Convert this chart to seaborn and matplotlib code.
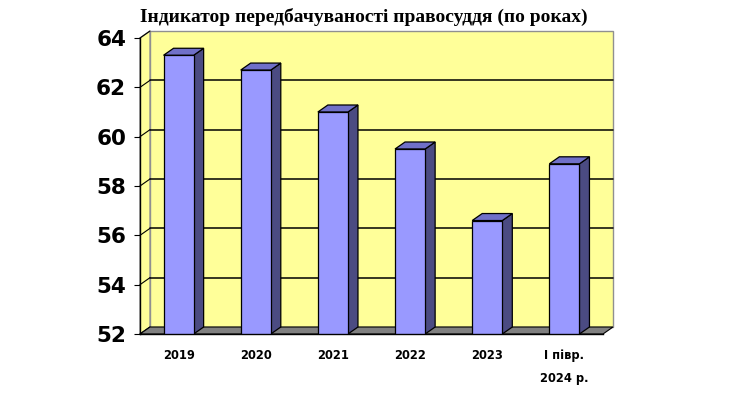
import matplotlib
matplotlib.use("Agg")
import matplotlib.pyplot as plt
import seaborn as sns
import pandas as pd
from matplotlib.patches import Polygon, Rectangle

categories = ["2019", "2020", "2021", "2022", "2023", "I півр.\n2024 р."]
values = [63.3, 62.7, 61.0, 59.5, 56.6, 58.9]
yticks = [52, 54, 56, 58, 60, 62, 64]
title = "Індикатор передбачуваності правосуддя (по роках)"

sns.set_theme(style="white")
plt.rcParams["font.family"] = ["DejaVu Sans"]

W, H = 752, 395
fig = plt.figure(figsize=(W / 100, H / 100), dpi=100)
x0p, x1p, ytop, ybot = 140, 603, 38, 334
ax = fig.add_axes([x0p / W, (H - ybot) / H, (x1p - x0p) / W, (ybot - ytop) / H])

df = pd.DataFrame({"cat": categories, "val": values})
ymin, ymax = yticks[0], yticks[-1]
n = len(categories)
xmin, xmax = -0.5, n - 0.5

# pixel -> data conversion for depth offsets
dxp, dyp = 10, 7
ux = (xmax - xmin) / (x1p - x0p)
uy = (ymax - ymin) / (ybot - ytop)
DX, DY = dxp * ux, dyp * uy

wall = "#FFFF99"
# back wall
ax.add_patch(Rectangle((xmin + DX, ymin + DY), xmax - xmin, ymax - ymin,
                       facecolor=wall, edgecolor="#909090", lw=1.0, clip_on=False, zorder=0))
# left side wall
ax.add_patch(Polygon([(xmin, ymin), (xmin + DX, ymin + DY), (xmin + DX, ymax + DY), (xmin, ymax)],
                     closed=True, facecolor=wall, edgecolor="#909090", lw=1.0, clip_on=False, zorder=0.5))
# gridlines on back wall and side wall
for t in yticks[1:-1]:
    ax.plot([xmin + DX, xmax + DX], [t + DY, t + DY], color="black", lw=1.1, clip_on=False, zorder=1)
for t in yticks:
    ax.plot([xmin, xmin + DX], [t, t + DY], color="black", lw=0.8, clip_on=False, zorder=1)
# floor
ax.add_patch(Polygon([(xmin, ymin), (xmax, ymin), (xmax + DX, ymin + DY), (xmin + DX, ymin + DY)],
                     closed=True, facecolor="#808080", edgecolor="black", lw=0.8, clip_on=False, zorder=1.5))

width = 0.39
sns.barplot(data=df, x="cat", y="val", ax=ax, color="#9999FF", width=width,
            edgecolor="black", linewidth=0.9, saturation=1, zorder=3)
for i, v in enumerate(values):
    xl, xr = i - width / 2, i + width / 2
    ax.add_patch(Polygon([(xr, ymin), (xr + DX, ymin + DY), (xr + DX, v + DY), (xr, v)],
                         closed=True, facecolor="#4B4B82", edgecolor="black", lw=0.9,
                         clip_on=False, zorder=2.5))
    ax.add_patch(Polygon([(xl, v), (xr, v), (xr + DX, v + DY), (xl + DX, v + DY)],
                         closed=True, facecolor="#7070C8", edgecolor="black", lw=0.9,
                         clip_on=False, zorder=2.5))

ax.set_xlim(xmin, xmax)
ax.set_ylim(ymin, ymax)
ax.patch.set_visible(False)
for s in ["top", "right"]:
    ax.spines[s].set_visible(False)
for s in ["left", "bottom"]:
    ax.spines[s].set_color("black")
    ax.spines[s].set_linewidth(1.0)
    ax.spines[s].set_zorder(4)

ax.set_yticks(yticks)
ax.set_yticklabels([str(t) for t in yticks], fontsize=15.5, fontweight="bold", color="black")
ax.set_xticks(range(n))
ax.set_xticklabels(categories, fontsize=8.3, fontweight="bold", color="black", linespacing=2.0,
                   va="top")
ax.set_xticks([i - 0.5 for i in range(n + 1)], minor=True)
ax.tick_params(axis="x", which="major", length=0, pad=11)
ax.tick_params(axis="x", which="minor", length=5, width=0.8, color="black", direction="out")
ax.tick_params(axis="y", length=4, width=0.8, color="black", direction="out", pad=6, left=True)
ax.set_xlabel("")
ax.set_ylabel("")

fig.text(364 / W, 1 - 17 / H, title, ha="center", va="center", fontsize=14,
         fontweight="bold", color="black", family=["Liberation Serif", "DejaVu Serif"])

fig.savefig("out.png", dpi=100, facecolor="white")
